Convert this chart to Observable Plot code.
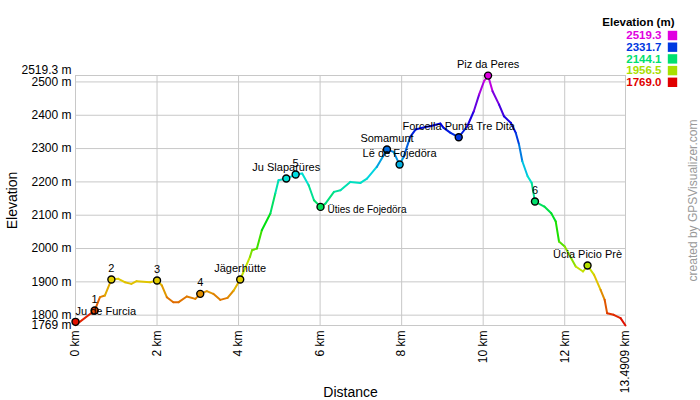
<!DOCTYPE html>
<html>
<head>
<meta charset="utf-8">
<script src="https://cdn.jsdelivr.net/npm/d3@7"></script>
<script src="https://cdn.jsdelivr.net/npm/@observablehq/plot@0.6"></script>
<style>
  html, body { margin: 0; padding: 0; background: #fff; }
</style>
</head>
<body>
<div id="chart"></div>
<script>
// Track profile (distance km, elevation m)
const dist = [0, 0.47, 0.6, 0.72, 0.88, 1.05, 1.21, 1.37, 1.5, 1.83, 2.0, 2.12, 2.24, 2.4, 2.53, 2.73, 2.94, 3.06, 3.22, 3.38, 3.55, 3.73, 3.88, 4.04, 4.28, 4.33, 4.45, 4.57, 4.78, 4.9, 4.98, 5.17, 5.4, 5.56, 5.72, 5.85, 6.01, 6.13, 6.34, 6.5, 6.74, 6.99, 7.15, 7.39, 7.56, 7.64, 7.8, 7.95, 8.05, 8.21, 8.34, 8.58, 8.7, 8.95, 9.03, 9.2, 9.4, 9.61, 9.77, 9.9, 10.02, 10.12, 10.23, 10.39, 10.51, 10.68, 10.8, 10.88, 10.96, 11.09, 11.19, 11.27, 11.5, 11.67, 11.78, 11.86, 12.0, 12.27, 12.45, 12.56, 12.72, 12.88, 12.98, 13.04, 13.2, 13.37, 13.4909];
const elev = [1770, 1814, 1854, 1859, 1907, 1909, 1899, 1894, 1902, 1899, 1904, 1889, 1854, 1839, 1839, 1856, 1849, 1864, 1872, 1864, 1846, 1852, 1874, 1907, 1975, 1995, 2000, 2055, 2105, 2165, 2205, 2210, 2222, 2225, 2190, 2145, 2125, 2135, 2170, 2175, 2200, 2197, 2210, 2245, 2280, 2297, 2290, 2252, 2275, 2335, 2357, 2365, 2367, 2375, 2362, 2347, 2334, 2367, 2412, 2462, 2502, 2519, 2472, 2432, 2397, 2377, 2347, 2312, 2262, 2217, 2197, 2141, 2126, 2106, 2081, 2021, 2006, 1946, 1931, 1949, 1921, 1876, 1846, 1806, 1801, 1791, 1769];

// Waypoints
const wpName = ["Ju de Furcia", "1", "2", "3", "4", "Jägerhütte", "Ju Slaparüres", "5", "Üties de Fojedöra", "Somamunt", "Lë de Fojedöra", "Forcella Punta Tre Dita", "Piz da Peres", "6", "Ücia Picio Prè"];
const wpDist = [0, 0.47, 0.88, 2.0, 3.06, 4.04, 5.17, 5.4, 6.01, 7.64, 7.95, 9.4, 10.12, 11.27, 12.56];
const wpElev = [1780, 1814, 1907, 1904, 1864, 1907, 2210, 2222, 2125, 2297, 2252, 2334, 2519, 2141, 1949];

// Axes
const elevMin = 1769;
const elevMax = 2519.3;
const distMax = 13.4909;
const yTicks = [1800, 1900, 2000, 2100, 2200, 2300, 2400, 2500];
const xTicks = [0, 2, 4, 6, 8, 10, 12];
const legendValues = [2519.3, 2331.7, 2144.1, 1956.5, 1769.0];

const track = dist.map((d, i) => ({d, e: elev[i]}));
const segs = track.slice(1).map((p, i) => ({x1: track[i].d, y1: track[i].e, x2: p.d, y2: p.e, e: (track[i].e + p.e) / 2}));
const wps = wpName.map((n, i) => ({name: n, d: wpDist[i], e: wpElev[i]}));
const startName = wpName[0];
const sideName = "Üties de Fojedöra";

const font = "'Liberation Sans', Arial, sans-serif";
const grid = "#c8c8c8";

const legendMarks = legendValues.flatMap((v, i) => [
  Plot.text([v], {frameAnchor: "top-right", dx: 36, dy: -40 + i * 11.7, text: d => d.toFixed(1), fill: d => d, textAnchor: "end", lineAnchor: "middle", fontWeight: "bold", fontSize: 11.5}),
  Plot.dot([v], {frameAnchor: "top-right", dx: 47, dy: -40 + i * 11.7, symbol: "square", r: 5.3, fill: d => d})
]);

const chart = Plot.plot({
  width: 700,
  height: 400,
  marginLeft: 75,
  marginRight: 75,
  marginTop: 75,
  marginBottom: 75,
  style: {fontFamily: font, fontSize: "12px", background: "#fff", color: "#000"},
  x: {domain: [0, distMax]},
  y: {domain: [elevMin, elevMax]},
  color: {type: "linear", domain: [elevMin, elevMax], interpolate: t => d3.hsl(t * 300, 1, 0.44).toString()},
  marks: [
    Plot.gridY(yTicks, {stroke: grid, strokeOpacity: 1}),
    Plot.gridX(xTicks, {stroke: grid, strokeOpacity: 1}),
    Plot.frame({stroke: grid}),
    Plot.axisY([elevMin, ...yTicks], {tickSize: 0, tickPadding: 4, tickFormat: d => d + " m", label: null, fontSize: 12}),
    Plot.text([elevMax], {y: d => d, frameAnchor: "left", dx: -4, dy: -5, textAnchor: "end", lineAnchor: "middle", text: d => d + " m", fontSize: 12}),
    Plot.axisX([...xTicks, distMax], {tickSize: 0, tickPadding: 5, tickRotate: -90, tickFormat: d => d + " km", label: null, fontSize: 12}),
    Plot.text(["Distance"], {frameAnchor: "bottom", dy: 67, textAnchor: "middle", lineAnchor: "middle", text: d => d, fontSize: 14}),
    Plot.text(["Elevation"], {frameAnchor: "left", dx: -63, rotate: -90, textAnchor: "middle", lineAnchor: "middle", text: d => d, fontSize: 14}),
    Plot.link(segs, {x1: "x1", y1: "y1", x2: "x2", y2: "y2", stroke: "e", strokeWidth: 2, strokeLinecap: "round"}),
    Plot.dot(wps, {x: "d", y: "e", r: 3.5, fill: "e", stroke: "#000", strokeWidth: 1.4}),
    Plot.text(wps.filter(w => w.name !== startName && w.name !== sideName), {x: "d", y: "e", text: "name", dy: -11, fontSize: 11, fill: "#000"}),
    Plot.text(wps.filter(w => w.name === startName), {x: "d", y: "e", text: "name", dy: -10, textAnchor: "start", fontSize: 11, fill: "#000"}),
    Plot.text(wps.filter(w => w.name === sideName), {x: "d", y: "e", text: "name", dx: 7, dy: 3, textAnchor: "start", fontSize: 10, fill: "#000"}),
    Plot.text(["Elevation (m)"], {frameAnchor: "top-right", dx: 49, dy: -53, text: d => d, textAnchor: "end", lineAnchor: "middle", fontWeight: "bold", fontSize: 11.5}),
    ...legendMarks,
    Plot.text(["created by GPSVisualizer.com"], {frameAnchor: "right", dx: 68, text: d => d, rotate: -90, textAnchor: "middle", lineAnchor: "middle", fill: "#999", fontSize: 12})
  ]
});
document.getElementById("chart").appendChild(chart);
</script>
</body>
</html>
